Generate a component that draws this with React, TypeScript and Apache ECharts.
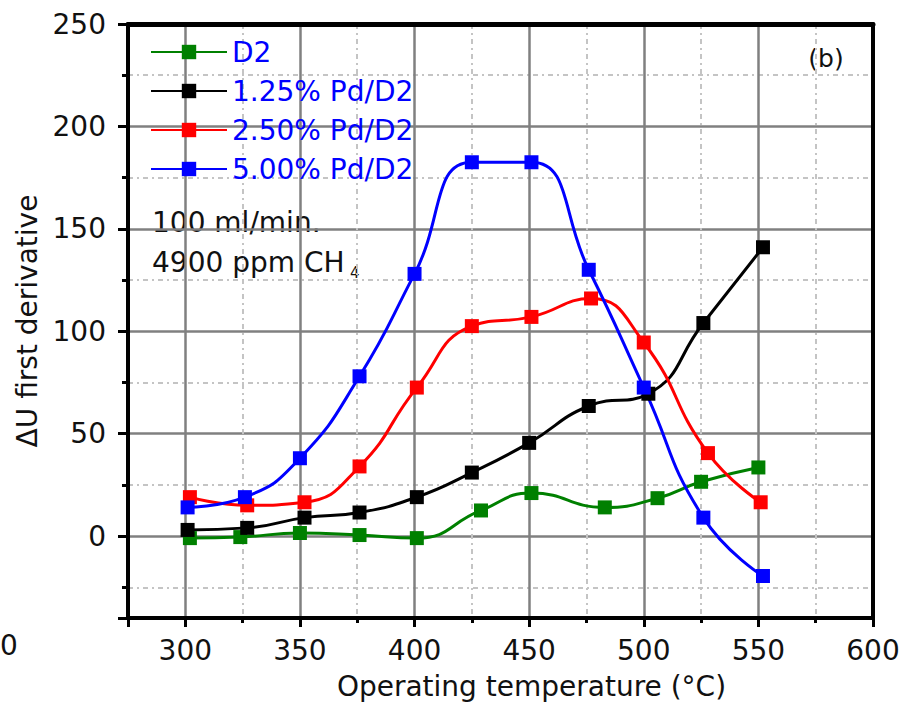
import React, { useEffect, useRef } from 'react';
import * as echarts from 'echarts';

// Data (temperature °C, ΔU first derivative)
const seriesNames = ['D2', '1.25% Pd/D2', '2.50% Pd/D2', '5.00% Pd/D2'];
const seriesColors = ['#008000', '#000000', '#ff0000', '#0000ff'];

const d2Temp = [302, 324, 350, 376, 401, 429, 451, 483, 506, 525, 550];
const d2Val = [-1, -0.5, 1.5, 0.5, -1, 12.5, 21, 14, 18.5, 26.5, 33.5];

const pd125Temp = [301, 327, 352, 376, 401, 425, 450, 476, 502, 526, 552];
const pd125Val = [3, 4, 9, 11.5, 19, 31, 45.5, 63.5, 69.5, 104, 141];

const pd250Temp = [302, 327, 352, 376, 401, 425, 451, 477, 500, 528, 551];
const pd250Val = [19, 15, 16.5, 34, 72.5, 102.5, 107, 116, 94.5, 40.5, 16.5];

const pd500Temp = [301, 326, 350, 376, 400, 425, 451, 476, 500, 526, 552];
const pd500Val = [14, 19, 38, 78, 128, 182.5, 182.5, 130, 72.5, 9, -19.5];

const xMin = 275;
const xMax = 600;
const yMin = -40;
const yMax = 250;

const FONT = '"DejaVu Sans", Verdana, sans-serif';

export default function App() {
  const ref = useRef<HTMLDivElement>(null);

  useEffect(() => {
    if (!ref.current) return;
    const chart = echarts.init(ref.current, null, { renderer: 'svg' });

    const temps = [d2Temp, pd125Temp, pd250Temp, pd500Temp];
    const vals = [d2Val, pd125Val, pd250Val, pd500Val];

    const series = seriesNames.map((name, s) => ({
      name,
      type: 'line',
      xAxisIndex: 0,
      yAxisIndex: 0,
      data: temps[s].map((t, i) => [t, vals[s][i]]),
      smooth: 0.5,
      symbol: 'rect',
      symbolSize: 14,
      z: 3,
      itemStyle: { color: seriesColors[s] },
      lineStyle: { color: seriesColors[s], width: 3 },
    }));

    const labelStyle = { fontSize: 28, color: '#111', fontFamily: FONT };

    chart.setOption({
      animation: false,
      grid: { left: 128, right: 40, top: 24, bottom: 89, containLabel: false, outerBoundsMode: 'none' },
      legend: {
        orient: 'vertical',
        left: 150,
        top: 38,
        padding: 0,
        itemWidth: 76,
        itemHeight: 18,
        itemGap: 11,
        data: seriesNames,
        textStyle: { fontSize: 28, color: '#0000ff', fontFamily: FONT },
      },
      xAxis: [
        {
          type: 'value',
          position: 'bottom',
          min: xMin,
          max: xMax,
          minInterval: 50,
          maxInterval: 50,
          axisLine: { show: true, onZero: false, lineStyle: { color: '#000', width: 4 } },
          axisTick: { show: true, inside: false, length: 9, lineStyle: { color: '#000', width: 3 } },
          axisLabel: {
            ...labelStyle,
            margin: 18,
            formatter: (v: number) => (v % 50 === 0 ? String(v) : ''),
          },
          splitLine: { show: true, showMinLine: false, showMaxLine: false, lineStyle: { color: '#808080', width: 2.5 } },
          name: 'Operating temperature (°C)',
          nameLocation: 'middle',
          nameGap: 54,
          nameTextStyle: { fontSize: 28, color: '#111', fontFamily: FONT, padding: [0, 0, 0, 62] },
        },
        {
          type: 'value',
          position: 'bottom',
          min: xMin,
          max: xMax,
          interval: 50,
          axisLine: { show: false, onZero: false },
          axisTick: { show: true, inside: false, length: 5, lineStyle: { color: '#000', width: 3 } },
          axisLabel: { show: false },
          splitLine: {
            show: true,
            showMinLine: false,
            showMaxLine: false,
            lineStyle: { color: '#c4c4c4', width: 2, type: [5, 4, 2, 4] },
          },
        },
        {
          type: 'value',
          position: 'top',
          min: xMin,
          max: xMax,
          z: 5,
          axisLine: { show: true, onZero: false, lineStyle: { color: '#000', width: 5 } },
          axisTick: { show: false },
          axisLabel: { show: false },
          splitLine: { show: false },
        },
      ],
      yAxis: [
        {
          type: 'value',
          position: 'left',
          min: yMin,
          max: yMax,
          minInterval: 50,
          maxInterval: 50,
          axisLine: { show: true, onZero: false, lineStyle: { color: '#000', width: 4 } },
          axisTick: { show: true, inside: false, length: 10, lineStyle: { color: '#000', width: 3 } },
          axisLabel: {
            ...labelStyle,
            margin: 22,
            formatter: (v: number) => (v % 50 === 0 ? String(v) : ''),
          },
          splitLine: { show: true, showMinLine: false, showMaxLine: false, lineStyle: { color: '#808080', width: 2.5 } },
          name: 'ΔU first derivative',
          nameLocation: 'middle',
          nameGap: 84,
          nameTextStyle: { fontSize: 28, color: '#111', fontFamily: FONT },
        },
        {
          type: 'value',
          position: 'left',
          min: yMin + 25,
          max: yMax + 25,
          minInterval: 50,
          maxInterval: 50,
          axisLine: { show: false, onZero: false },
          axisTick: { show: true, inside: false, length: 6, lineStyle: { color: '#000', width: 3 } },
          axisLabel: { show: false },
          splitLine: {
            show: true,
            showMinLine: false,
            showMaxLine: false,
            lineStyle: { color: '#c4c4c4', width: 2, type: [5, 4, 2, 4] },
          },
        },
        {
          type: 'value',
          position: 'right',
          min: yMin,
          max: yMax,
          z: 5,
          axisLine: { show: true, onZero: false, lineStyle: { color: '#000', width: 4 } },
          axisTick: { show: false },
          axisLabel: { show: false },
          splitLine: { show: false },
        },
      ],
      graphic: [
        {
          type: 'text',
          x: 152,
          y: 222,
          style: { text: '100 ml/min.', fontSize: 28, fontFamily: FONT, fill: '#111', verticalAlign: 'middle' },
        },
        {
          type: 'text',
          x: 152,
          y: 262,
          style: { text: '4900 ppm CH', fontSize: 28, fontFamily: FONT, fill: '#111', verticalAlign: 'middle' },
        },
        {
          type: 'text',
          x: 350,
          y: 273,
          style: { text: '4', fontSize: 15, fontFamily: FONT, fill: '#111', verticalAlign: 'middle' },
        },
        {
          type: 'text',
          x: 826,
          y: 58,
          style: { text: '(b)', fontSize: 25, fontFamily: FONT, fill: '#111', align: 'center', verticalAlign: 'middle' },
        },
        {
          type: 'text',
          x: 0,
          y: 645,
          style: { text: '0', fontSize: 28, fontFamily: FONT, fill: '#111', verticalAlign: 'middle' },
        },
      ],
      series,
    });

    return () => chart.dispose();
  }, []);

  return <div ref={ref} style={{ position: 'absolute', left: 0, top: 0, width: 913, height: 707 }} />;
}
